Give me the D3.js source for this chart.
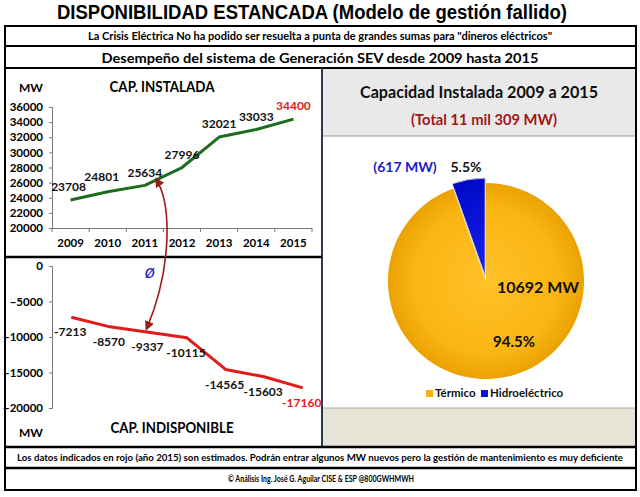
<!DOCTYPE html>
<html>
<head>
<meta charset="utf-8">
<script src="https://cdn.jsdelivr.net/npm/d3@7"></script>
<style>
  body { margin: 0; background: #fff; }
  text { font-family: Lato, "Liberation Sans", sans-serif; font-weight: bold; }
</style>
</head>
<body>
<div id="chart"></div>
<script>
var width = 640,
    height = 497;

// data
var years = ["2009", "2010", "2011", "2012", "2013", "2014", "2015"];
var installed = [23708, 24801, 25634, 27996, 32021, 33033, 34400];
var unavailable = [-7213, -8570, -9337, -10115, -14565, -15603, -17160];
var installedTicks = [20000, 22000, 24000, 26000, 28000, 30000, 32000, 34000, 36000];
var unavailableTicks = [0, -5000, -10000, -15000, -20000];
var pieNames = ["Térmico", "Hidroeléctrico"];
var pieValues = [10692, 617];
var pieShares = ["94.5%", "5.5%"];
var pieColors = ["#f9b10c", "#0a12e0"];

var svg = d3.select("#chart").append("svg")
    .attr("width", width)
    .attr("height", height);

svg.append("rect").attr("width", width).attr("height", height).attr("fill", "#fff");

var defs = svg.append("defs");

// ---- frame ----
svg.append("rect").attr("x", 323).attr("y", 69).attr("width", 312).attr("height", 67).attr("fill", "#e9e9e9");
svg.append("line").attr("x1", 323).attr("x2", 635).attr("y1", 136).attr("y2", 136).attr("stroke", "#9a9a9a");
svg.append("rect").attr("x", 323).attr("y", 408).attr("width", 312).attr("height", 39).attr("fill", "#e7e4d7");
svg.append("line").attr("x1", 323).attr("x2", 635).attr("y1", 408).attr("y2", 408).attr("stroke", "#b0ad9f");

var frame = svg.append("g").attr("stroke", "#000").attr("fill", "none");
frame.append("rect").attr("x", 5).attr("y", 26).attr("width", 631).attr("height", 464).attr("stroke-width", 2);
frame.append("line").attr("x1", 5).attr("x2", 636).attr("y1", 46).attr("y2", 46).attr("stroke-width", 2);
frame.append("line").attr("x1", 5).attr("x2", 636).attr("y1", 68).attr("y2", 68).attr("stroke-width", 2);
frame.append("line").attr("x1", 322).attr("x2", 322).attr("y1", 68).attr("y2", 447).attr("stroke-width", 2).attr("stroke", "#2c3a4e");
frame.append("line").attr("x1", 5).attr("x2", 322).attr("y1", 257).attr("y2", 257).attr("stroke-width", 2.5);
frame.append("line").attr("x1", 5).attr("x2", 636).attr("y1", 447).attr("y2", 447).attr("stroke-width", 2.5);
frame.append("line").attr("x1", 5).attr("x2", 636).attr("y1", 468).attr("y2", 468).attr("stroke-width", 2.5);

// ---- titles ----
svg.append("text")
    .attr("x", 312).attr("y", 19)
    .attr("text-anchor", "middle")
    .style("font-family", "'Liberation Sans Narrow', 'Liberation Sans', sans-serif")
    .attr("font-size", 20)
    .attr("textLength", 510).attr("lengthAdjust", "spacingAndGlyphs")
    .text("DISPONIBILIDAD ESTANCADA (Modelo de gestión fallido)");

svg.append("text")
    .attr("x", 320).attr("y", 40)
    .attr("text-anchor", "middle").attr("font-size", 10.5)
    .attr("textLength", 464).attr("lengthAdjust", "spacingAndGlyphs")
    .text("La Crisis Eléctrica No ha podido ser resuelta a punta de grandes sumas para \"dineros eléctricos\"");

svg.append("text")
    .attr("x", 320).attr("y", 62.5)
    .attr("text-anchor", "middle").attr("font-size", 14)
    .attr("textLength", 437).attr("lengthAdjust", "spacingAndGlyphs")
    .text("Desempeño del sistema de Generación SEV desde 2009 hasta 2015");

svg.append("text")
    .attr("x", 320).attr("y", 461)
    .attr("text-anchor", "middle").attr("font-size", 9.5)
    .attr("textLength", 606).attr("lengthAdjust", "spacingAndGlyphs")
    .text("Los datos indicados en rojo (año 2015) son estimados. Podrán entrar  algunos MW nuevos pero la gestión de mantenimiento  es muy deficiente");

svg.append("text")
    .attr("x", 321).attr("y", 482)
    .attr("text-anchor", "middle").attr("font-size", 9)
    .attr("textLength", 186).attr("lengthAdjust", "spacingAndGlyphs")
    .text("© Análisis Ing. José G. Aguilar CISE & ESP @800GWHMWH");

// ---- top chart: capacidad instalada ----
var x = d3.scaleBand().domain(years).range([52, 312]);
var y = d3.scaleLinear().domain([20000, 36000]).range([228, 107]);
var cx = function(d) { return x(d) + x.bandwidth() / 2; };

svg.append("text").attr("x", 31).attr("y", 92).attr("text-anchor", "middle").attr("font-size", 12).text("MW");
svg.append("text").attr("x", 162).attr("y", 92).attr("text-anchor", "middle").attr("font-size", 15)
    .attr("textLength", 105).attr("lengthAdjust", "spacingAndGlyphs").text("CAP. INSTALADA");

var yAxis = svg.append("g")
    .attr("transform", "translate(52,0)")
    .call(d3.axisLeft(y).tickValues(installedTicks).tickSize(3).tickPadding(6).tickFormat(d3.format("d")));
yAxis.selectAll("text").attr("font-size", 11.5).attr("fill", "#000");
yAxis.selectAll("line, path").attr("stroke", "#777");

var xAxis = svg.append("g")
    .attr("transform", "translate(0,228)")
    .call(d3.axisBottom(x).tickSize(0).tickPadding(11).tickSizeOuter(0));
xAxis.selectAll("text").attr("font-size", 11.5).attr("fill", "#000");
xAxis.select("path").attr("stroke", "#777");
xAxis.selectAll("line.bound")
    .data(years.map(function(d) { return x(d); }).concat([x.range()[1]]))
  .enter().append("line")
    .attr("class", "bound")
    .attr("x1", function(d) { return d; }).attr("x2", function(d) { return d; })
    .attr("y1", 0).attr("y2", 4)
    .attr("stroke", "#777");

var lineTop = d3.line()
    .x(function(d, i) { return cx(years[i]); })
    .y(function(d) { return y(d); });

svg.append("path")
    .datum(installed)
    .attr("fill", "none")
    .attr("stroke", "#1d6b1d")
    .attr("stroke-width", 3)
    .attr("stroke-linejoin", "round")
    .attr("d", lineTop);

svg.selectAll("text.lblTop")
    .data(installed)
  .enter().append("text")
    .attr("class", "lblTop")
    .attr("x", function(d, i) { return cx(years[i]) + (i === 0 ? -2 : i === 1 ? -6 : 0); })
    .attr("y", function(d, i) { return y(d) - (i === 0 ? 13 : i === 1 ? 15 : 13); })
    .attr("dy", "0.35em")
    .attr("text-anchor", "middle")
    .attr("font-size", 12)
    .attr("fill", function(d, i) { return i === years.length - 1 ? "#e01b1b" : "#111"; })
    .text(function(d) { return d; });

// ---- bottom chart: capacidad indisponible ----
var x2 = d3.scaleBand().domain(years).range([52, 322]);
var y2 = d3.scaleLinear().domain([-20000, 0]).range([408, 266]);
var cx2 = function(d) { return x2(d) + x2.bandwidth() / 2; };

var yAxis2 = svg.append("g")
    .attr("transform", "translate(52,0)")
    .call(d3.axisLeft(y2).tickValues(unavailableTicks).tickSize(3).tickPadding(6).tickFormat(d3.format("d")));
yAxis2.selectAll("text").attr("font-size", 11.5).attr("fill", "#000");
yAxis2.selectAll("line, path").attr("stroke", "#777");

var lineBot = d3.line()
    .x(function(d, i) { return cx2(years[i]); })
    .y(function(d) { return y2(d); });

svg.append("path")
    .datum(unavailable)
    .attr("fill", "none")
    .attr("stroke", "#e21a1a")
    .attr("stroke-width", 3)
    .attr("stroke-linejoin", "round")
    .attr("d", lineBot);

svg.selectAll("text.lblBot")
    .data(unavailable)
  .enter().append("text")
    .attr("class", "lblBot")
    .attr("x", function(d, i) { return cx2(years[i]) - 1; })
    .attr("y", function(d) { return y2(d) + 15; })
    .attr("dy", "0.35em")
    .attr("text-anchor", "middle")
    .attr("font-size", 12)
    .attr("fill", function(d, i) { return i === years.length - 1 ? "#e01b1b" : "#111"; })
    .text(function(d) { return d; });

svg.append("text").attr("x", 31).attr("y", 437).attr("text-anchor", "middle").attr("font-size", 12).text("MW");
svg.append("text").attr("x", 172).attr("y", 433).attr("text-anchor", "middle").attr("font-size", 15)
    .attr("textLength", 123).attr("lengthAdjust", "spacingAndGlyphs").text("CAP. INDISPONIBLE");

// ---- arrow linking both charts ----
defs.append("marker")
    .attr("id", "head")
    .attr("viewBox", "0 0 10 10")
    .attr("refX", 8).attr("refY", 5)
    .attr("markerWidth", 6).attr("markerHeight", 6)
    .attr("orient", "auto-start-reverse")
  .append("path")
    .attr("d", "M0,0L10,5L0,10z")
    .attr("fill", "#9b1c1c");

var t1 = 0.3, t2 = 0.95;
var p0 = [cx(years[2]) + t1 * (cx(years[3]) - cx(years[2])), y(installed[2]) + t1 * (y(installed[3]) - y(installed[2])) - 1];
var p1 = [cx2(years[1]) + t2 * (cx2(years[2]) - cx2(years[1])), y2(unavailable[1]) + t2 * (y2(unavailable[2]) - y2(unavailable[1])) - 3];

svg.append("path")
    .attr("d", "M" + p0[0] + "," + p0[1] + " C" + (p0[0] + 16) + "," + (p0[1] + 25) + " " + (p0[0] + 16) + "," + (p1[1] - 60) + " " + p1[0] + "," + p1[1])
    .attr("fill", "none")
    .attr("stroke", "#9b1c1c")
    .attr("stroke-width", 1.6)
    .attr("marker-start", "url(#head)")
    .attr("marker-end", "url(#head)");

svg.append("text")
    .attr("x", 150).attr("y", 278)
    .attr("text-anchor", "middle")
    .attr("font-size", 20)
    .attr("font-style", "italic")
    .style("font-weight", "normal")
    .attr("fill", "#2828c8")
    .text("ø");

// ---- pie ----
svg.append("text").attr("x", 479).attr("y", 98).attr("text-anchor", "middle").attr("font-size", 17)
    .attr("textLength", 238).attr("lengthAdjust", "spacingAndGlyphs").attr("fill", "#111")
    .text("Capacidad Instalada 2009 a 2015");
svg.append("text").attr("x", 484).attr("y", 125).attr("text-anchor", "middle").attr("font-size", 15)
    .attr("textLength", 146).attr("lengthAdjust", "spacingAndGlyphs").attr("fill", "#a31616")
    .text("(Total 11 mil 309 MW)");

var gOrange = defs.append("radialGradient").attr("id", "gOrange");
gOrange.append("stop").attr("offset", "0%").attr("stop-color", "#ffc22a");
gOrange.append("stop").attr("offset", "75%").attr("stop-color", "#fab512");
gOrange.append("stop").attr("offset", "100%").attr("stop-color", "#eaa200");
var gBlue = defs.append("radialGradient").attr("id", "gBlue")
    .attr("gradientUnits", "userSpaceOnUse").attr("cx", 0).attr("cy", 0).attr("r", 98);
gBlue.append("stop").attr("offset", "0%").attr("stop-color", "#1a22f0");
gBlue.append("stop").attr("offset", "100%").attr("stop-color", "#0008c8");

var pcx = 486, pcy = 281, r = 98;
var pie = d3.pie().sort(null).startAngle(0).endAngle(2 * Math.PI);
var arc = d3.arc().innerRadius(0).outerRadius(r);
var arcs = pie(pieValues);

var pg = svg.append("g").attr("transform", "translate(" + pcx + "," + pcy + ")");
pg.selectAll("path")
    .data(arcs)
  .enter().append("path")
    .attr("transform", function(d, i) {
      if (i === 0) return null;
      var a = (d.startAngle + d.endAngle) / 2;
      return "translate(" + (Math.sin(a) * 5) + "," + (-Math.cos(a) * 5) + ")";
    })
    .attr("d", arc)
    .attr("fill", function(d, i) { return i === 0 ? "url(#gOrange)" : "url(#gBlue)"; })
    .attr("stroke", function(d, i) { return i === 0 ? "none" : "#cfcfcf"; })
    .attr("stroke-width", 1);

svg.append("text").attr("x", pcx + 52).attr("y", pcy + 6).attr("dy", "0.35em").attr("text-anchor", "middle")
    .attr("font-size", 16).attr("fill", "#111").text(pieValues[0] + " MW");
svg.append("text").attr("x", pcx + 28).attr("y", pcy + 61).attr("dy", "0.35em").attr("text-anchor", "middle")
    .attr("font-size", 15).attr("fill", "#111").text(pieShares[0]);
svg.append("text").attr("x", 405).attr("y", 167).attr("dy", "0.35em").attr("text-anchor", "middle")
    .attr("font-size", 14).attr("fill", "#1a1ad0").text("(" + pieValues[1] + " MW)");
svg.append("text").attr("x", 466).attr("y", 167).attr("dy", "0.35em").attr("text-anchor", "middle")
    .attr("font-size", 14).attr("fill", "#111").text(pieShares[1]);

// legend
var legX = [430, 485];
var leg = svg.selectAll("g.leg")
    .data(pieNames)
  .enter().append("g")
    .attr("class", "leg")
    .attr("transform", function(d, i) { return "translate(" + legX[i] + ",393)"; });
leg.append("rect").attr("x", -4).attr("y", -3).attr("width", 7).attr("height", 7)
    .attr("fill", function(d, i) { return pieColors[i]; });
leg.append("text").attr("x", 5).attr("dy", "0.35em").attr("font-size", 11.5).attr("fill", "#111")
    .text(function(d) { return d; });
</script>
</body>
</html>
